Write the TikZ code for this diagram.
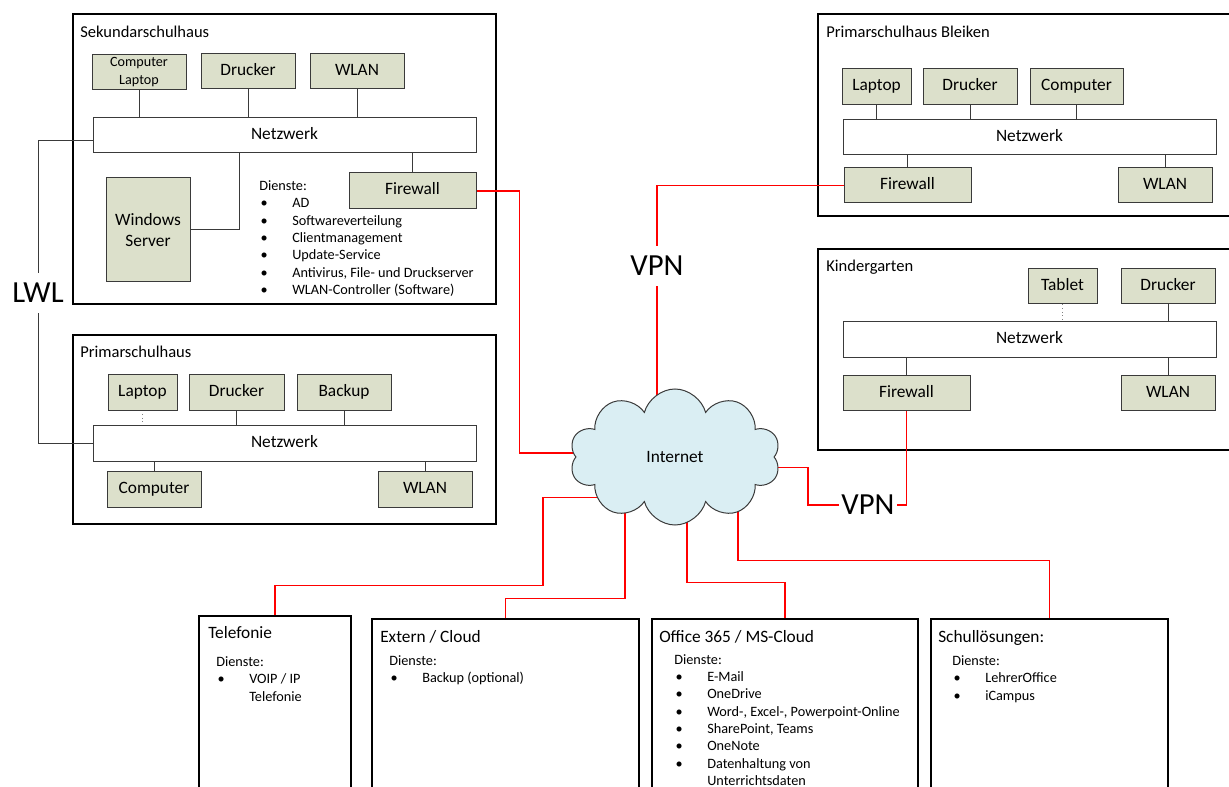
\documentclass[tikz,border=0pt]{standalone}
\usepackage{fontspec}
\setmainfont{Carlito}
\usepackage{tikz}
\usetikzlibrary{shapes.symbols,calc}
\definecolor{devgreen}{HTML}{DCE0CB}
\definecolor{framegray}{HTML}{3A3A3A}
\definecolor{cloudblue}{HTML}{DAEEF3}
\definecolor{vpnred}{HTML}{FF0000}
\newcommand\bul[1]{\makebox[24.75pt][l]{\hspace{1pt}\textbullet}#1}
\newcommand\bulskip{\makebox[24.75pt]{}}
\tikzset{
	haus/.style 2 args={draw=black,line width=0.8pt,minimum width=#1*0.75pt,minimum height=#2*0.75pt,inner sep=0pt},
	devbox/.style 2 args={draw=framegray,fill=devgreen,line width=0.75pt,minimum width=#1*0.75pt,minimum height=#2*0.75pt,inner sep=0pt,font=\fontsize{13}{15.75}\selectfont},
	dev/.style 2 args={devbox={#1}{#2},text height=1.5ex,text depth=.25ex},
	netz/.style 2 args={dev={#1}{#2},fill=white},
	hausname/.style={anchor=base west,inner sep=0pt,font=\fontsize{12.4}{15}\selectfont},
	boxname/.style={anchor=base west,inner sep=0pt,font=\fontsize{13}{15}\selectfont},
	dienste/.style={anchor=base west,inner sep=0pt,align=left,font=\fontsize{10.7}{13}\selectfont},
	bigtag/.style={font=\fontsize{23}{27}\selectfont,inner xsep=1.5pt,inner ysep=7.5pt},
	wire/.style={draw=framegray,line width=0.75pt},
	redwire/.style={draw=vpnred,line width=1.15pt},
}
\begin{document}
\begin{tikzpicture}[x=0.75pt,y=-0.75pt]
	\useasboundingbox (0,0) rectangle (1229,787);
	% Sekundarschulhaus
	\node[haus={423}{290}] (sek) at (284.5,159) {};
	\node[hausname] (sektitle) at (80,38) {Sekundarschulhaus};
	\node[devbox={94}{35},align=center,font=\fontsize{10.6}{13.5}\selectfont] (sekpc) at (139,72.5) {Computer\\Laptop};
	\node[dev={94}{35}] (sekdrucker) at (248,71.5) {Drucker};
	\node[dev={94}{35}] (sekwlan) at (357,71.5) {WLAN};
	\node[netz={383}{35}] (seknetz) at (284.5,135.5) {Netzwerk};
	\node[devbox={84}{104},align=center] (sekserver) at (148,230) {Windows\\Server};
	\node[dev={127}{36}] (sekfw) at (412.5,191) {Firewall};
	\node[dienste] (sekdienste) at (259,294.6) {Dienste:\\\bul{AD}\\\bul{Softwareverteilung}\\\bul{Clientmanagement}\\\bul{Update-Service}\\\bul{Antivirus, File- und Druckserver}\\\bul{WLAN-Controller (Software)}};
	\draw[wire] (sekpc.south) -- (sekpc.south |- seknetz.north);
	\draw[wire] (sekdrucker.south) -- (sekdrucker.south |- seknetz.north);
	\draw[wire] (sekwlan.south) -- (sekwlan.south |- seknetz.north);
	\draw[wire] ([xshift=-34.1pt]seknetz.south) |- (sekserver.east);
	\draw[wire] (sekfw.north) -- (sekfw.north |- seknetz.south);
	% Primarschulhaus
	\node[haus={423}{189}] (prim) at (284.5,429.5) {};
	\node[hausname] (primtitle) at (80,358) {Primarschulhaus};
	\node[dev={69}{36}] (primlaptop) at (142.5,393) {Laptop};
	\node[dev={95}{36}] (primdrucker) at (236.5,393) {Drucker};
	\node[dev={94}{36}] (primbackup) at (344,393) {Backup};
	\node[netz={383}{36}] (primnetz) at (284.5,444) {Netzwerk};
	\node[dev={94}{36}] (primpc) at (154,490) {Computer};
	\node[dev={94}{36}] (primwlan) at (425,490) {WLAN};
	\draw[wire,gray,dotted,line width=0.5pt] ([yshift=-2pt]primlaptop.south) -- ++(0,8);
	\draw[wire] (primdrucker.south) -- (primdrucker.south |- primnetz.north);
	\draw[wire] (primbackup.south) -- (primbackup.south |- primnetz.north);
	\draw[wire] (primpc.north) -- (primpc.north |- primnetz.south);
	\draw[wire] (primwlan.north) -- (primwlan.north |- primnetz.south);
	% LWL
	\node[bigtag] (lwl) at (38,293) {LWL};
	\draw[wire] ([yshift=-4pt]seknetz.west) -| (lwl.north);
	\draw[wire] (lwl.south) |- (primnetz.west);
	% Primarschulhaus Bleiken
	\node[haus={417}{202}] (bleiken) at (1026.5,115) {};
	\node[hausname] (bleikentitle) at (826,38) {Primarschulhaus Bleiken};
	\node[dev={69}{36}] (blaptop) at (876.5,87) {Laptop};
	\node[dev={94}{36}] (bdrucker) at (970,87) {Drucker};
	\node[dev={93}{36}] (bpc) at (1076.5,87) {Computer};
	\node[netz={373}{35}] (bnetz) at (1029.5,137.5) {Netzwerk};
	\node[dev={127}{35}] (bfw) at (907.5,185.5) {Firewall};
	\node[dev={94}{35}] (bwlan) at (1165,185.5) {WLAN};
	\draw[wire] (blaptop.south) -- (blaptop.south |- bnetz.north);
	\draw[wire] (bdrucker.south) -- (bdrucker.south |- bnetz.north);
	\draw[wire] (bpc.south) -- (bpc.south |- bnetz.north);
	\draw[wire] (bfw.north) -- (bfw.north |- bnetz.south);
	\draw[wire] (bwlan.north) -- (bwlan.north |- bnetz.south);
	% Kindergarten
	\node[haus={417}{201}] (kiga) at (1026.5,349.5) {};
	\node[hausname] (kigatitle) at (826,272) {Kindergarten};
	\node[dev={69}{35}] (ktablet) at (1062.5,286.5) {Tablet};
	\node[dev={94}{35}] (kdrucker) at (1168,286.5) {Drucker};
	\node[netz={373}{36}] (knetz) at (1029.5,340) {Netzwerk};
	\node[dev={127}{35}] (kfw) at (906.5,393.5) {Firewall};
	\node[dev={94}{35}] (kwlan) at (1168,393.5) {WLAN};
	\draw[wire,gray,dotted,line width=0.5pt] (ktablet.south) -- (ktablet.south |- knetz.north);
	\draw[wire] (kdrucker.south) -- (kdrucker.south |- knetz.north);
	\draw[wire] (kfw.north) -- (kfw.north |- knetz.south);
	\draw[wire] (kwlan.north) -- (kwlan.north |- knetz.south);
	% Dienste unten
	\node[haus={152}{184}] (tel) at (275,708) {};
	\node[haus={267}{181}] (ext) at (505.5,709.5) {};
	\node[haus={266}{181}] (office) at (785,709.5) {};
	\node[haus={237}{181}] (schul) at (1049.5,709.5) {};
	\node[boxname] (teltitle) at (208,638.5) {Telefonie};
	\node[boxname] (exttitle) at (380,642.5) {Extern / Cloud};
	\node[boxname] (officetitle) at (659,642.5) {Office 365 / MS-Cloud};
	\node[boxname] (schultitle) at (938,642.5) {Schullösungen:};
	\node[dienste] (teldienste) at (216,701.3) {Dienste:\\\bul{VOIP / IP}\\\bulskip Telefonie};
	\node[dienste] (extdienste) at (389,682.9) {Dienste:\\\bul{Backup (optional)}};
	\node[dienste] (officedienste) at (674,785.5) {Dienste:\\\bul{E-Mail}\\\bul{OneDrive}\\\bul{Word-, Excel-, Powerpoint-Online}\\\bul{SharePoint, Teams}\\\bul{OneNote}\\\bul{Datenhaltung von}\\\bulskip Unterrichtsdaten};
	\node[dienste] (schuldienste) at (952,700.3) {Dienste:\\\bul{LehrerOffice}\\\bul{iCampus}};
	% Internet
	\coordinate (inetc) at (675,457);
	\node[bigtag] (vpnA) at (657,266) {VPN};
	\node[bigtag] (vpnB) at (868,505) {VPN};
	\draw[redwire] (sekfw.east) -- ++(43,0) |- ([yshift=3pt]inetc);
	\draw[redwire] (bfw.west) -| (vpnA.north);
	\draw[redwire] (vpnA.south) -- (vpnA.south |- inetc);
	\draw[redwire] (kfw.south) |- (vpnB.east);
	\draw[redwire] (vpnB.west) -- ++(-31,0) |- ([yshift=-7.9pt]inetc);
	\draw[redwire] (tel.north) -- ++(0,-30) -- ++(268,0) |- ([yshift=-30.4pt]inetc);
	\draw[redwire] (ext.north) -- ++(0,-20) -| ([xshift=-37.5pt]inetc);
	\draw[redwire] (office.north) -- ++(0,-36) -| ([xshift=9pt]inetc);
	\draw[redwire] (schul.north) -- ++(0,-58) -| ([xshift=47.25pt]inetc);
	\node[cloud,cloud puffs=10,cloud ignores aspect,draw=framegray,fill=cloudblue,line width=0.75pt,minimum width=158pt,minimum height=102pt,font=\fontsize{13}{15}\selectfont] (internet) at (inetc) {Internet};
\end{tikzpicture}
\end{document}
